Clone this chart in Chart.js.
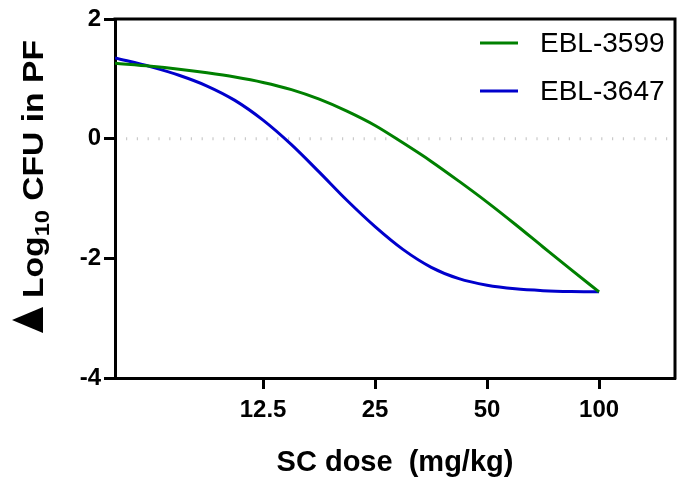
<!DOCTYPE html>
<html>
<head>
<meta charset="utf-8">
<script src="https://cdn.jsdelivr.net/npm/chart.js@4/dist/chart.umd.min.js"></script>
<style>
  html, body { margin: 0; padding: 0; background: #fff; }
  #wrap { width: 682px; height: 482px; }
</style>
</head>
<body>
<div id="wrap"><canvas id="c" width="682" height="482"></canvas></div>
<script>
// Dose (mg/kg) at which each fitted curve is sampled (quarter-doubling steps)
const doses = [5, 6.25, 7.43, 8.84, 10.5, 12.5, 14.9, 17.7, 21, 25, 29.7, 35.4, 42, 50, 59.5, 70.7, 84.1, 100];
// Change in log10 CFU in PF for each compound
const ebl3599 = [1.26, 1.21, 1.16, 1.10, 1.03, 0.94, 0.82, 0.66, 0.46, 0.22, -0.07, -0.38, -0.71, -1.06, -1.43, -1.81, -2.19, -2.56];
const ebl3647 = [1.35, 1.20, 1.06, 0.88, 0.64, 0.31, -0.10, -0.56, -1.03, -1.47, -1.85, -2.15, -2.34, -2.45, -2.51, -2.54, -2.555, -2.56];
const seriesNames = ['EBL-3599', 'EBL-3647'];
const seriesColors = ['#008000', '#0000CC'];
// Axis ticks
const xTicks = [12.5, 25, 50, 100];
const yTicks = [-4, -2, 0, 2];

const FONT = '"Liberation Sans", Arial, Helvetica, sans-serif';

const toPoints = (ys) => doses.map((d, i) => ({ x: d, y: ys[i] }));

// Dotted reference line at y = 0, closed frame, titles and legend
const decorations = {
  id: 'decorations',
  beforeDatasetsDraw(chart) {
    const { ctx, chartArea: a, scales: { y } } = chart;
    const y0 = y.getPixelForValue(0);
    ctx.save();
    ctx.strokeStyle = '#cacaca';
    ctx.lineWidth = 3;
    ctx.setLineDash([1.2, 9.6]);
    ctx.beginPath();
    ctx.moveTo(a.left + 11, y0);
    ctx.lineTo(a.right, y0);
    ctx.stroke();
    ctx.restore();
  },
  afterDraw(chart) {
    const { ctx, chartArea: a } = chart;
    ctx.save();
    // top and right edges of the frame
    ctx.strokeStyle = '#000';
    ctx.lineWidth = 3;
    ctx.lineCap = 'square';
    ctx.beginPath();
    ctx.moveTo(a.left, a.top);
    ctx.lineTo(a.right, a.top);
    ctx.lineTo(a.right, a.bottom);
    ctx.stroke();

    // x axis title
    ctx.fillStyle = '#000';
    ctx.font = 'bold 29px ' + FONT;
    ctx.textAlign = 'center';
    ctx.textBaseline = 'middle';
    ctx.fillText('SC dose  (mg/kg)', (a.left + a.right) / 2, 463);

    // y axis title, rotated: delta symbol, Log with subscript 10, rest
    ctx.save();
    ctx.translate(43, 300);
    ctx.rotate(-Math.PI / 2);
    ctx.beginPath();
    ctx.moveTo(-33, 0);
    ctx.lineTo(-7, 0);
    ctx.lineTo(-20, -31);
    ctx.closePath();
    ctx.fill();
    ctx.textAlign = 'left';
    ctx.textBaseline = 'alphabetic';
    const parts = [
      { t: 'Log', f: 'bold 30px ' + FONT, dy: 0 },
      { t: '10', f: 'bold 21px ' + FONT, dy: 6 },
      { t: ' CFU in PF', f: 'bold 30px ' + FONT, dy: 0 }
    ];
    let total = 0;
    parts.forEach(p => { ctx.font = p.f; p.w = ctx.measureText(p.t).width; total += p.w; });
    const span = 258;
    ctx.translate(2, 0);
    ctx.scale(span / total, 1);
    let x = 0;
    parts.forEach(p => { ctx.font = p.f; ctx.fillText(p.t, x, p.dy); x += p.w; });
    ctx.restore();

    // legend
    ctx.font = '28px ' + FONT;
    ctx.textAlign = 'left';
    ctx.textBaseline = 'middle';
    seriesNames.forEach((name, i) => {
      const cy = 43 + i * 48;
      ctx.strokeStyle = seriesColors[i];
      ctx.lineWidth = 3;
      ctx.lineCap = 'butt';
      ctx.beginPath();
      ctx.moveTo(480, cy);
      ctx.lineTo(518, cy);
      ctx.stroke();
      ctx.fillStyle = '#000';
      ctx.fillText(name, 540, cy + 1);
    });
    ctx.restore();
  }
};

new Chart(document.getElementById('c'), {
  type: 'line',
  data: {
    datasets: [
      { label: seriesNames[0], data: toPoints(ebl3599), borderColor: seriesColors[0] },
      { label: seriesNames[1], data: toPoints(ebl3647), borderColor: seriesColors[1] }
    ]
  },
  options: {
    responsive: false,
    animation: false,
    devicePixelRatio: 1,
    layout: { padding: { left: 0, right: 7, top: 19, bottom: 0 } },
    elements: {
      line: { borderWidth: 3, cubicInterpolationMode: 'monotone', fill: false },
      point: { radius: 0 }
    },
    plugins: { legend: { display: false }, tooltip: { enabled: false } },
    scales: {
      x: {
        type: 'logarithmic',
        min: 5,
        max: 160,
        afterBuildTicks(scale) { scale.ticks = xTicks.map(v => ({ value: v })); },
        afterFit(scale) { scale.height = 104; },
        border: { display: true, color: '#000', width: 3 },
        grid: { drawOnChartArea: false, drawTicks: true, tickLength: 11, tickColor: '#000', tickWidth: 3 },
        ticks: {
          color: '#000',
          font: { family: FONT, size: 24, weight: 'bold' },
          padding: 7,
          maxRotation: 0,
          autoSkip: false,
          callback: (v) => String(v)
        }
      },
      y: {
        type: 'linear',
        min: -4,
        max: 2,
        afterBuildTicks(scale) { scale.ticks = yTicks.map(v => ({ value: v })); },
        afterFit(scale) { scale.width = 115; },
        border: { display: true, color: '#000', width: 3 },
        grid: { drawOnChartArea: false, drawTicks: true, tickLength: 11, tickColor: '#000', tickWidth: 3 },
        ticks: {
          color: '#000',
          font: { family: FONT, size: 24, weight: 'bold' },
          padding: 3,
          callback: (v) => String(v)
        }
      }
    }
  },
  plugins: [decorations]
});
</script>
</body>
</html>
